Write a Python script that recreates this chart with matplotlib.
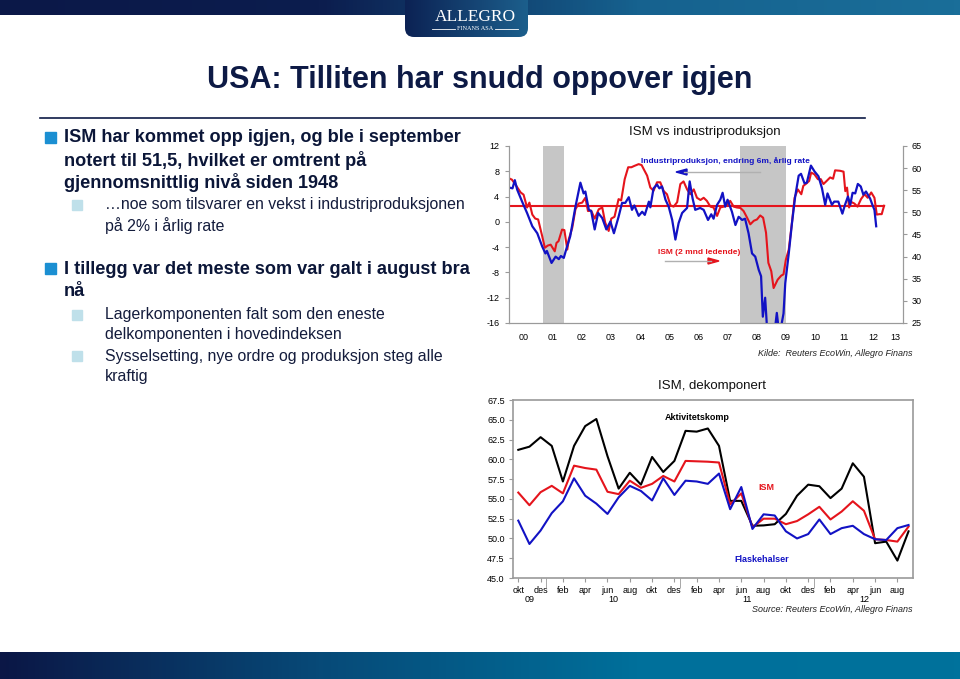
import numpy as np
import matplotlib.pyplot as plt
from matplotlib.colors import LinearSegmentedColormap
from matplotlib.patches import FancyBboxPatch, Rectangle, Polygon
from matplotlib.lines import Line2D

plt.rcParams['font.family'] = ['Liberation Sans', 'DejaVu Sans']
plt.rcParams['axes.unicode_minus'] = False

# ---- data: top chart (IP 6m change, annual rate, left axis / ISM shifted 2m, right axis)
ip_t = [2000.03, 2000.12, 2000.2, 2000.28, 2000.45, 2000.62, 2000.8, 2000.97, 2001.14, 2001.25,
        2001.3, 2001.46, 2001.6, 2001.71, 2001.78, 2001.88, 2001.96, 2002.1, 2002.28, 2002.45,
        2002.56, 2002.62, 2002.74, 2002.82, 2002.94, 2003.06, 2003.2, 2003.34, 2003.48, 2003.6,
        2003.76, 2003.88, 2003.99, 2004.11, 2004.22, 2004.3, 2004.45, 2004.57, 2004.66, 2004.8,
        2004.85, 2004.96, 2005.08, 2005.16, 2005.25, 2005.37, 2005.48, 2005.6, 2005.71, 2005.82,
        2005.94, 2006.11, 2006.2, 2006.3, 2006.39, 2006.56, 2006.68, 2006.83, 2006.94, 2007.02,
        2007.14, 2007.25, 2007.33, 2007.42, 2007.5, 2007.65, 2007.77, 2007.88, 2008.0, 2008.1,
        2008.22, 2008.34, 2008.45, 2008.57, 2008.65, 2008.71, 2008.79, 2008.85, 2008.95, 2009.05,
        2009.19, 2009.28, 2009.42, 2009.48, 2009.6, 2009.71, 2009.82, 2009.94, 2010.02, 2010.14,
        2010.22, 2010.36, 2010.48, 2010.62, 2010.74, 2010.85, 2010.93, 2011.08, 2011.16, 2011.3,
        2011.44, 2011.53, 2011.63, 2011.71, 2011.79, 2011.88, 2011.97, 2012.07, 2012.16, 2012.25,
        2012.39, 2012.47, 2012.54, 2012.6]
ip_v = [5.4, 5.3, 6.6, 5.1, 3.2, 1.4, -0.7, -1.8, -3.9, -5.0,
        -4.6, -6.5, -5.5, -5.9, -5.4, -5.7, -4.4, -2.3, 2.4, 6.2,
        4.5, 4.8, 1.9, 1.7, -1.2, 1.4, 0.6, -1.2, 0.05, -1.8,
        0.8, 3.0, 3.0, 3.9, 1.9, 2.6, 0.95, 1.6, 1.1, 3.2,
        2.3, 5.3, 5.9, 5.3, 5.6, 3.5, 2.4, 0.3, -2.8, -0.2,
        1.4, 2.2, 6.4, 3.7, 1.9, 2.2, 1.9, 0.3, 1.2, 0.5,
        2.7, 3.5, 4.6, 2.4, 3.5, 1.6, -0.5, 0.8, 0.3, 0.5,
        -1.8, -5.0, -5.5, -7.6, -8.6, -15.0, -12.0, -16.5, -18.0, -20.0,
        -14.4, -18.0, -14.5, -9.7, -5.0, -0.2, 4.0, 7.3, 7.6, 6.1,
        6.2, 8.9, 8.0, 7.2, 5.3, 2.7, 4.5, 2.7, 3.2, 3.2,
        1.3, 2.7, 4.0, 2.7, 4.6, 4.5, 6.0, 5.6, 4.3, 4.8,
        3.7, 2.7, 1.9, -0.7]

ism_t = [2000.0, 2000.1, 2000.25, 2000.4, 2000.5, 2000.62, 2000.7, 2000.8, 2000.9, 2001.0,
         2001.14, 2001.23, 2001.33, 2001.43, 2001.57, 2001.63, 2001.7, 2001.82, 2001.9, 2002.0,
         2002.05, 2002.17, 2002.28, 2002.39, 2002.51, 2002.62, 2002.71, 2002.82, 2002.94, 2003.08,
         2003.2, 2003.3, 2003.42, 2003.51, 2003.62, 2003.76, 2003.85, 2003.97, 2004.09, 2004.2,
         2004.3, 2004.45, 2004.55, 2004.62, 2004.74, 2004.85, 2004.96, 2005.08, 2005.19, 2005.31,
         2005.42, 2005.54, 2005.65, 2005.77, 2005.88, 2005.99, 2006.11, 2006.22, 2006.34, 2006.45,
         2006.57, 2006.68, 2006.79, 2006.91, 2007.02, 2007.14, 2007.25, 2007.37, 2007.48, 2007.59,
         2007.71, 2007.82, 2007.94, 2008.05, 2008.17, 2008.28, 2008.4, 2008.51, 2008.62, 2008.72,
         2008.82, 2008.9, 2009.0, 2009.08, 2009.22, 2009.34, 2009.42, 2009.5, 2009.6, 2009.71,
         2009.8, 2009.91, 2010.03, 2010.1, 2010.2, 2010.3, 2010.37, 2010.48, 2010.6, 2010.7,
         2010.79, 2010.9, 2011.02, 2011.12, 2011.19, 2011.36, 2011.48, 2011.54, 2011.6, 2011.67,
         2011.73, 2011.85, 2011.96, 2012.08, 2012.2, 2012.31, 2012.43, 2012.54, 2012.62, 2012.71,
         2012.79, 2012.87]
ism_v = [57.7, 57.4, 56.0, 54.5, 54.0, 51.1, 52.2, 49.5, 48.6, 48.4,
         44.6, 42.0, 42.5, 42.7, 41.2, 43.1, 43.5, 46.1, 46.0, 41.6,
         43.9, 46.5, 50.7, 52.0, 52.2, 53.3, 50.3, 50.4, 48.6, 50.7,
         51.1, 47.7, 45.8, 48.6, 49.0, 53.0, 52.7, 57.5, 60.2, 60.2,
         60.5, 60.9, 60.7, 59.8, 58.3, 55.6, 54.9, 56.8, 56.8, 54.8,
         54.1, 51.6, 51.3, 52.3, 56.4, 57.0, 55.2, 54.1, 55.2, 53.3,
         52.8, 53.3, 52.6, 51.3, 51.1, 49.2, 51.1, 51.3, 51.6, 52.6,
         51.3, 51.1, 51.0, 50.3, 48.8, 47.3, 48.1, 48.4, 49.3, 48.8,
         45.4, 38.6, 36.7, 32.9, 34.8, 35.7, 36.0, 39.3, 41.6, 47.7,
         53.3, 55.2, 54.1, 56.0, 56.5, 57.1, 59.0, 58.6, 57.5, 57.5,
         56.4, 57.1, 57.9, 57.6, 59.5, 59.4, 59.2, 54.8, 55.6, 51.1,
         52.4, 52.0, 51.3, 53.0, 54.1, 53.3, 54.5, 53.3, 49.5, 49.6,
         49.6, 51.5]
ism_level = 51.5
ism_level_end = 2012.87
recessions = [(2001.17, 2001.9), (2007.92, 2009.5)]
year_labels = ['00', '01', '02', '03', '04', '05', '06', '07', '08', '09', '10', '11', '12', '13']

# ---- data: bottom chart (ISM components, okt 09 - sep 12)
months = ['okt', 'nov', 'des', 'jan', 'feb', 'mar', 'apr', 'mai', 'jun', 'jul', 'aug', 'sep'] * 3
aktivitet = [61.2, 61.6, 62.8, 61.7, 57.2, 61.7, 64.2, 65.1, 60.4, 56.3, 58.3, 56.8,
             60.3, 58.4, 59.8, 63.6, 63.5, 63.9, 61.7, 54.75, 54.75, 51.6, 51.65, 51.8,
             53.1, 55.4, 56.8, 56.6, 55.1, 56.3, 59.5, 57.8, 49.4, 49.6, 47.2, 50.9]
ism_total = [55.8, 54.2, 55.85, 56.65, 55.7, 59.2, 58.9, 58.7, 55.9, 55.6, 57.3, 56.4,
             56.9, 57.9, 57.2, 59.8, 59.75, 59.7, 59.6, 54.3, 55.7, 51.4, 52.5, 52.5,
             51.8, 52.2, 53.05, 54.0, 52.4, 53.4, 54.7, 53.5, 49.9, 49.8, 49.6, 51.5]
flaskehals = [52.25, 49.3, 51.0, 53.2, 54.7, 57.6, 55.4, 54.4, 53.1, 55.2, 56.65, 56.0,
              54.8, 57.6, 55.5, 57.3, 57.2, 56.9, 58.2, 53.7, 56.5, 51.2, 53.05, 52.9,
              50.9, 50.0, 50.55, 52.4, 50.55, 51.3, 51.6, 50.55, 49.9, 49.8, 51.3, 51.7]
years_bottom = ['09', '10', '11', '12']

NAVY = '#0d1a45'
BLUE = '#1212c4'
RED = '#e5141c'
GREY = '#9a9a9a'
W, H = 960, 679

fig = plt.figure(figsize=(9.6, 6.79), dpi=100)
bg = fig.add_axes([0, 0, 1, 1], zorder=-5)
T = bg.transData


def gradient(x0, x1, y0, y1, colors, clip=None):
    cmap = LinearSegmentedColormap.from_list('g', colors)
    im = bg.imshow(np.linspace(0, 1, 256)[None, :], cmap=cmap, aspect='auto',
                   extent=(x0, x1, y1, y0), interpolation='bilinear')
    if clip is not None:
        im.set_clip_path(clip)
    return im


# header band, logo tab, footer band
gradient(0, W, 0, 15, ['#0b1848', '#0c1d4e', '#16628f', '#1a6e99'])
tab = FancyBboxPatch((405, -12), 123, 49, boxstyle='round,pad=0,rounding_size=9',
                     facecolor='none', edgecolor='none')
bg.add_patch(tab)
gradient(405, 528, 0, 37, ['#0c2254', '#1c5f8c'], clip=tab)
gradient(0, W, 652, H, ['#0b1746', '#074a78', '#00709b', '#00729c'])
bg.text(475, 17, 'ALLEGRO', family=['Liberation Serif', 'DejaVu Serif'], fontsize=12.5,
        color='white', ha='center', va='center')
bg.text(475, 28.5, 'FINANS ASA', family=['Liberation Serif', 'DejaVu Serif'], fontsize=4.5,
        color='white', ha='center', va='center')
bg.plot([432, 455], [28.5, 28.5], color='white', lw=0.6)
bg.plot([495, 518], [28.5, 28.5], color='white', lw=0.6)

# title
bg.text(480, 80, 'USA: Tilliten har snudd oppover igjen', fontsize=22, fontweight='bold',
        color=NAVY, ha='center', va='center')
bg.plot([40, 865], [118, 118], color=NAVY, lw=1.2)

# bullets
main_lines = [(138, 'ISM har kommet opp igjen, og ble i september', True),
              (160, 'notert til 51,5, hvilket er omtrent på', False),
              (183, 'gjennomsnittlig nivå siden 1948', False),
              (269, 'I tillegg var det meste som var galt i august bra', True),
              (291, 'nå', False)]
sub_lines = [(205, '…noe som tilsvarer en vekst i industriproduksjonen', True),
             (226, 'på 2% i årlig rate', False),
             (315, 'Lagerkomponenten falt som den eneste', True),
             (334, 'delkomponenten i hovedindeksen', False),
             (356, 'Sysselsetting, nye ordre og produksjon steg alle', True),
             (377, 'kraftig', False)]
for y, s, first in main_lines:
    bg.text(64, y, s, fontsize=13.1, fontweight='bold', color='#0b1638', va='center')
    if first:
        bg.add_patch(Rectangle((45, y - 6), 11, 11, color='#1b8fd2'))
for y, s, first in sub_lines:
    bg.text(105, y, s, fontsize=11.4, color='#141c3c', va='center')
    if first:
        bg.add_patch(Rectangle((72, y - 5), 10, 10, color='#bfe0ea'))

bg.set_xlim(0, W)
bg.set_ylim(H, 0)
bg.axis('off')

# ---- top chart
ax2 = fig.add_axes([509 / W, 1 - 323 / H, 394 / W, 177 / H])
ax1 = ax2.twinx()
ax1.yaxis.tick_left()
ax1.set_zorder(ax2.get_zorder() + 1)
ax1.patch.set_visible(False)

for a, b in recessions:
    ax2.axvspan(a, b, color='#c6c6c6', lw=0)
ax2.plot(ism_t, ism_v, color=RED, lw=1.5)
ax2.plot([ism_t[0], ism_level_end], [ism_level, ism_level], color=RED, lw=1.5)
ax1.plot(ip_t, ip_v, color=BLUE, lw=1.6)

ax1.set_ylim(-16, 12)
ax2.set_ylim(25, 65)
ax2.set_xlim(2000, 2013.52)
ax1.set_yticks(range(-16, 13, 4))
ax2.set_yticks(range(25, 66, 5))
ax2.yaxis.tick_right()
ax2.set_xticks(range(2000, 2014))
ax2.set_xticklabels([])
ax2.set_xticks([y + 0.5 for y in range(2000, 2013)] + [2013.25], minor=True)
ax2.set_xticklabels(year_labels, minor=True)
ax2.tick_params(axis='x', which='major', length=4, direction='out', color=GREY)
ax2.tick_params(axis='x', which='minor', length=0, pad=7, labelsize=6.5)
ax2.tick_params(axis='y', length=3, color=GREY, labelsize=6.5, pad=3)
ax1.tick_params(axis='y', length=3, color=GREY, labelsize=6.5, pad=4)
for a in (ax1, ax2):
    for s in a.spines.values():
        s.set_color(GREY)
        s.set_linewidth(0.8)
    a.spines['top'].set_visible(False)
ax1.set_xticks([])

fig.text(705 / W, 1 - 132 / H, 'ISM vs industriproduksjon', fontsize=9.5, color='#111',
         ha='center', va='center')
fig.text(725 / W, 1 - 161 / H, 'Industriproduksjon, endring 6m, årlig rate', fontsize=6,
         fontweight='bold', color=BLUE, ha='center', va='center')
fig.add_artist(Line2D([684, 760], [172, 172], transform=T, color='#b0b0b0', lw=1))
fig.add_artist(Polygon([[676, 172], [687, 169], [687, 175]], closed=True, transform=T, color=BLUE))
fig.text(699 / W, 1 - 253 / H, 'ISM (2 mnd ledende)', fontsize=6, fontweight='bold',
         color=RED, ha='center', va='center')
fig.add_artist(Line2D([665, 711], [261, 261], transform=T, color='#b0b0b0', lw=1))
fig.add_artist(Polygon([[719, 261], [708, 258], [708, 264]], closed=True, transform=T, color=RED))
fig.text(912 / W, 1 - 354 / H, 'Kilde:  Reuters EcoWin, Allegro Finans', fontsize=6.5,
         style='italic', color='#222', ha='right', va='center')

# ---- bottom chart
ax3 = fig.add_axes([513 / W, 1 - 578 / H, 400 / W, 178 / H])
idx = np.arange(len(months))
ax3.plot(idx, aktivitet, color='black', lw=1.5)
ax3.plot(idx, ism_total, color=RED, lw=1.5)
ax3.plot(idx, flaskehals, color=BLUE, lw=1.5)
ax3.set_xlim(-0.475, 35.4)
ax3.set_ylim(45, 67.5)
ax3.set_yticks(np.arange(45, 67.6, 2.5))
ax3.set_yticklabels(['%.1f' % v for v in np.arange(45, 67.6, 2.5)])
ax3.set_xticks(idx[::2])
ax3.set_xticklabels(months[::2])
ax3.set_xticks([2.5, 14.5, 26.5], minor=True)
ax3.tick_params(axis='x', which='major', length=3, color=GREY, labelsize=6.5, pad=3)
ax3.tick_params(axis='x', which='minor', length=7, color=GREY)
ax3.tick_params(axis='y', length=3, color=GREY, labelsize=6.5, pad=3)
for s in ax3.spines.values():
    s.set_color(GREY)
    s.set_linewidth(1.2)
for pos, lab in zip([1, 8.5, 20.5, 31], years_bottom):
    ax3.text(pos, -0.122, lab, transform=ax3.get_xaxis_transform(), fontsize=6.5,
             ha='center', va='center')

fig.text(712 / W, 1 - 386 / H, 'ISM, dekomponert', fontsize=9.5, color='#111',
         ha='center', va='center')
fig.text(697 / W, 1 - 417 / H, 'Aktivitetskomp', fontsize=6.5, fontweight='bold',
         color='black', ha='center', va='center')
fig.text(766 / W, 1 - 488 / H, 'ISM', fontsize=6.5, fontweight='bold', color=RED,
         ha='center', va='center')
fig.text(762 / W, 1 - 560 / H, 'Flaskehalser', fontsize=6.5, fontweight='bold', color=BLUE,
         ha='center', va='center')
fig.text(913 / W, 1 - 609 / H, 'Source: Reuters EcoWin, Allegro Finans', fontsize=6.5,
         style='italic', color='#222', ha='right', va='center')

fig.savefig('out.png', dpi=100)
